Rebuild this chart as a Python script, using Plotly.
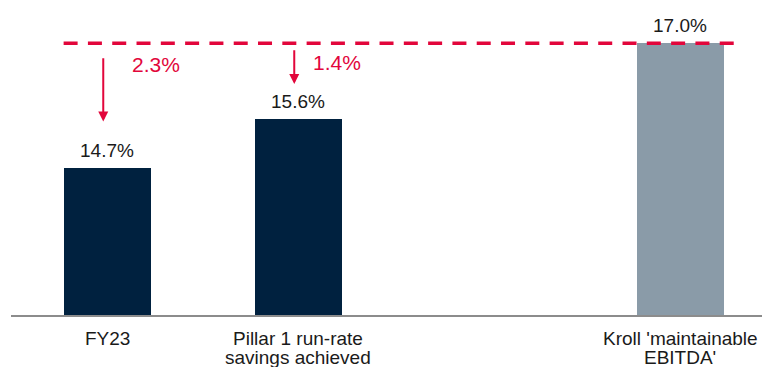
import plotly.graph_objects as go

# ---- data ----
categories = ["FY23", "Pillar 1 run-rate<br>savings achieved", " ", "Kroll 'maintainable<br>EBITDA'"]
bar_categories = ["FY23", "Pillar 1 run-rate<br>savings achieved", "Kroll 'maintainable<br>EBITDA'"]
bar_values = [14.7, 15.6, 17.0]
bar_labels = ["14.7%", "15.6%", "17.0%"]
gap_labels = ["2.3%", "1.4%"]
target_value = 17.0

# ---- style ----
NAVY = "#00213F"
GREY = "#8A9BA8"
RED = "#E2063B"
FONT = "Arial, Liberation Sans, sans-serif"
bar_colors = [NAVY, NAVY, GREY]
BAR_W = 0.455

fig = go.Figure()
fig.add_trace(go.Bar(
    x=bar_categories, y=bar_values, width=BAR_W,
    marker=dict(color=bar_colors, line=dict(width=0)),
    hoverinfo="skip", showlegend=False,
))

# bar value labels
for c, v, t in zip(bar_categories, bar_values, bar_labels):
    fig.add_annotation(x=c, y=v, text=t, showarrow=False, yanchor="bottom",
                       yshift=5, font=dict(family=FONT, size=19, color="#1a1a1a"))

# category labels (tight line spacing, as in the reference)
for c in bar_categories:
    for i, line in enumerate(c.split("<br>")):
        fig.add_annotation(x=c, xref="x", y=0, yref="paper", text=line,
                           showarrow=False, xanchor="center", yanchor="middle",
                           yshift=-23.5 - 19 * i,
                           font=dict(family=FONT, size=19, color="#1a1a1a"))

# dashed target line
fig.add_shape(type="line", xref="x", yref="y",
              x0=0 - BAR_W / 2, x1=3.314, y0=target_value, y1=target_value,
              line=dict(color=RED, width=3.5, dash="14px,10.3px"))

# red arrows
arrow_specs = [
    dict(x=-0.02, y_from=16.75, y_to=15.56),
    dict(x=0.98, y_from=16.90, y_to=16.25),
]
for a in arrow_specs:
    fig.add_annotation(x=a["x"], y=a["y_to"], ax=a["x"], ay=a["y_from"],
                       xref="x", yref="y", axref="x", ayref="y", text="",
                       showarrow=True, arrowhead=2, arrowsize=1, arrowwidth=2,
                       arrowcolor=RED)

# gap labels
gap_pos = [(0.257, 16.615), (1.204, 16.655)]
for (gx, gy), t in zip(gap_pos, gap_labels):
    fig.add_annotation(x=gx, y=gy, text=t, showarrow=False, xanchor="center",
                       yanchor="middle", font=dict(family=FONT, size=21, color=RED))

fig.update_layout(
    width=762, height=367,
    margin=dict(l=11, r=0, t=0, b=52, autoexpand=False),
    paper_bgcolor="white", plot_bgcolor="white",
    font=dict(family=FONT, size=19, color="#1a1a1a"),
    bargap=0,
)
fig.update_xaxes(type="category", categoryorder="array", categoryarray=categories,
                 range=[-0.503, 3.429], showline=True, linecolor="#8c8c8c", linewidth=2,
                 ticks="", showgrid=False, zeroline=False, showticklabels=False)
fig.update_yaxes(range=[12, 17.796], visible=False, showgrid=False, zeroline=False)

fig.write_html("out.html")
